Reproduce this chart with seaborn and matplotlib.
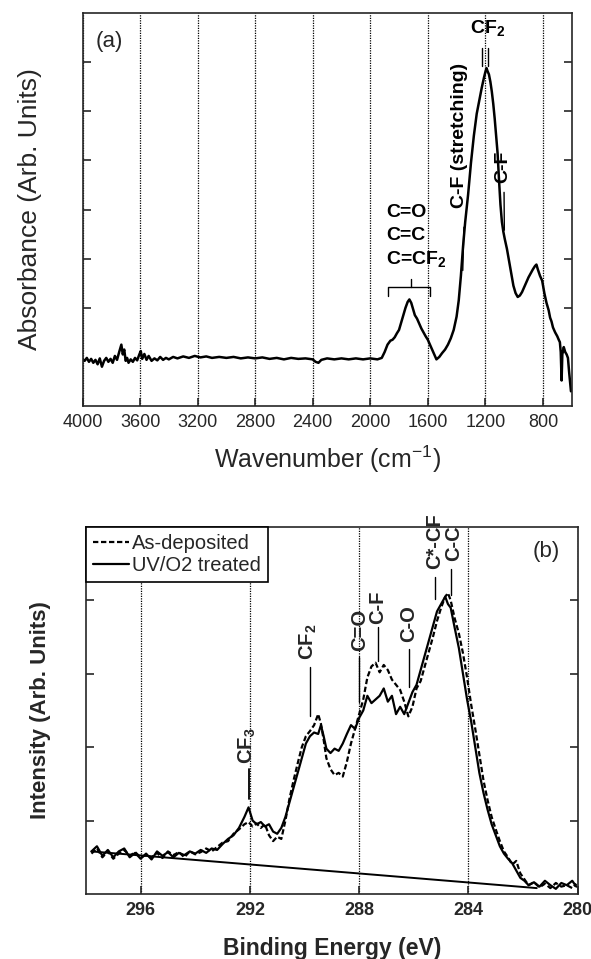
import matplotlib
matplotlib.use("Agg")
import matplotlib.pyplot as plt
import seaborn as sns
import pandas as pd

# ---------------- Panel (a): FTIR spectrum ----------------
ir_wavenumber = [
    4000, 3985, 3970, 3955, 3940, 3925, 3910, 3895, 3880, 3865, 3850, 3835, 3820, 3805,
    3790, 3775, 3760, 3745, 3730, 3720, 3710, 3700, 3690, 3680, 3665, 3650, 3635, 3620,
    3605, 3595, 3585, 3570, 3555, 3540, 3520, 3500, 3480, 3460, 3440, 3420, 3400, 3370,
    3340, 3300, 3260, 3220, 3180, 3140, 3100, 3050, 3000, 2950, 2900, 2850, 2800, 2750,
    2700, 2650, 2600, 2550, 2500, 2450, 2400, 2380, 2360, 2340, 2300, 2250, 2200, 2150,
    2100, 2050, 2000, 1950, 1920, 1900, 1880, 1860, 1845, 1830, 1815, 1800, 1785, 1770,
    1755, 1740, 1728, 1715, 1700, 1690, 1675, 1660, 1645, 1630, 1615, 1600, 1585, 1570,
    1555, 1540, 1520, 1500, 1480, 1460, 1440, 1420, 1400, 1385, 1370, 1355, 1340, 1320,
    1300, 1280, 1260, 1240, 1225, 1210, 1200, 1192, 1185, 1175, 1165, 1155, 1145, 1135,
    1125, 1115, 1105, 1095, 1085, 1075, 1065, 1050, 1035, 1020, 1005, 990, 975, 960, 945,
    930, 915, 900, 885, 870, 855, 845, 835, 820, 805, 790, 775, 760, 750, 740, 730, 715,
    700, 690, 682, 676, 670, 665, 655, 645, 635, 626, 618, 610, 605]
ir_absorbance = [
    -0.05, -0.08, -0.02, -0.10, -0.04, -0.12, -0.06, -0.15, -0.03, -0.20, -0.08, -0.02, -0.10, -0.04,
    -0.12, 0.02, -0.06, 0.10, 0.25, 0.05, 0.15, -0.08, -0.02, -0.12, -0.05, -0.10, -0.02, -0.07,
    0.05, 0.12, -0.04, 0.06, -0.06, 0.02, -0.08, -0.03, -0.07, 0.00, -0.06, -0.02, -0.05, 0.00,
    -0.03, 0.01, -0.02, 0.02, -0.01, 0.01, -0.02, 0.00, -0.02, 0.00, -0.03, -0.01, -0.03, -0.01,
    -0.04, -0.02, -0.05, -0.02, -0.04, -0.03, -0.05, -0.10, -0.12, -0.06, -0.03, -0.05, -0.03, -0.05,
    -0.03, -0.05, -0.03, -0.05, -0.02, 0.10, 0.25, 0.33, 0.35, 0.40, 0.48, 0.55, 0.70, 0.85,
    1.00, 1.12, 1.17, 1.10, 0.95, 0.85, 0.78, 0.68, 0.58, 0.50, 0.42, 0.35, 0.25, 0.15,
    0.05, -0.05, 0.00, 0.08, 0.15, 0.25, 0.38, 0.55, 0.82, 1.15, 1.65, 2.25, 2.75, 3.30,
    3.95, 4.50, 4.95, 5.25, 5.48, 5.68, 5.80, 5.88, 5.82, 5.75, 5.60, 5.40, 5.15, 4.85,
    4.50, 4.15, 3.60, 3.10, 2.75, 2.55, 2.40, 2.20, 1.95, 1.70, 1.45, 1.30, 1.22, 1.25, 1.32,
    1.42, 1.52, 1.62, 1.70, 1.78, 1.85, 1.88, 1.78, 1.65, 1.55, 1.30, 1.10, 0.95, 0.80, 0.72, 0.60, 0.50,
    0.42, 0.35, 0.30, 0.10, -0.48, 0.05, 0.20, 0.10, 0.05, -0.02, -0.30, -0.55, -0.70]
ir_xticks = [4000, 3600, 3200, 2800, 2400, 2000, 1600, 1200, 800]

# ---------------- Panel (b): XPS C1s ----------------
xps_energy = [
    297.8, 297.6, 297.4, 297.2, 297.0, 296.8, 296.6, 296.4, 296.2, 296.0, 295.8, 295.6, 295.4, 295.2,
    295.0, 294.8, 294.6, 294.4, 294.2, 294.0, 293.8, 293.6, 293.4, 293.2, 293.0, 292.8, 292.6, 292.4,
    292.2, 292.05, 291.9, 291.75, 291.6, 291.45, 291.3, 291.15, 291.0, 290.85, 290.7, 290.55, 290.4,
    290.25, 290.1, 289.95, 289.8, 289.65, 289.5, 289.4, 289.3, 289.2, 289.05, 288.9, 288.75, 288.6,
    288.45, 288.3, 288.15, 288.0, 287.85, 287.7, 287.55, 287.4, 287.25, 287.1, 286.95, 286.8, 286.65,
    286.5, 286.35, 286.2, 286.05, 285.9, 285.75, 285.6, 285.45, 285.3, 285.15, 285.0, 284.85, 284.75,
    284.65, 284.5, 284.35, 284.2, 284.05, 283.9, 283.75, 283.6, 283.45, 283.3, 283.15, 283.0, 282.85,
    282.7, 282.55, 282.4, 282.25, 282.1, 281.95, 281.8, 281.6, 281.4, 281.2, 281.0, 280.8, 280.6,
    280.4, 280.2, 280.05]
uv_treated = [
    0.58, 0.65, 0.52, 0.60, 0.50, 0.58, 0.62, 0.50, 0.56, 0.48, 0.55, 0.47, 0.58, 0.52,
    0.57, 0.50, 0.56, 0.53, 0.58, 0.55, 0.60, 0.56, 0.62, 0.60, 0.68, 0.75, 0.80, 0.90,
    1.05, 1.18, 1.00, 0.95, 0.98, 0.92, 0.95, 0.85, 0.82, 0.90, 1.05, 1.25, 1.45,
    1.65, 1.85, 2.05, 2.15, 2.20, 2.18, 2.30, 2.15, 1.98, 1.92, 1.98, 1.95, 2.05,
    2.18, 2.30, 2.25, 2.40, 2.50, 2.70, 2.60, 2.65, 2.70, 2.80, 2.62, 2.70, 2.45,
    2.55, 2.45, 2.60, 2.75, 2.85, 3.05, 3.25, 3.45, 3.65, 3.85, 3.95, 4.05, 3.95,
    3.90, 3.62, 3.35, 3.00, 2.65, 2.35, 2.00, 1.65, 1.38, 1.15, 0.95, 0.80, 0.65,
    0.55, 0.48, 0.42, 0.32, 0.22, 0.18, 0.12, 0.16, 0.10, 0.18, 0.12, 0.07, 0.15,
    0.12, 0.18, 0.10]
as_deposited = [
    0.55, 0.62, 0.50, 0.58, 0.48, 0.55, 0.60, 0.52, 0.57, 0.50, 0.53, 0.50, 0.56, 0.49,
    0.58, 0.53, 0.57, 0.50, 0.58, 0.54, 0.57, 0.62, 0.58, 0.64, 0.70, 0.72, 0.82, 0.88,
    0.95, 0.98, 0.92, 0.96, 0.90, 0.95, 0.80, 0.72, 0.78, 0.75, 1.00, 1.30, 1.55,
    1.78, 2.00, 2.15, 2.22, 2.30, 2.45, 2.32, 2.10, 1.85, 1.70, 1.62, 1.65, 1.60,
    1.80, 2.05, 2.25, 2.45, 2.65, 2.95, 3.10, 3.15, 3.02, 3.12, 3.05, 2.92, 2.85,
    2.78, 2.62, 2.42, 2.55, 2.80, 2.90, 3.10, 3.30, 3.50, 3.72, 3.90, 4.05, 4.10,
    4.00, 3.75, 3.55, 3.28, 2.95, 2.58, 2.25, 1.90, 1.55, 1.28, 1.05, 0.88, 0.72,
    0.58, 0.50, 0.40, 0.45, 0.28, 0.20, 0.12, 0.16, 0.09, 0.14, 0.08, 0.15, 0.10,
    0.12, 0.08, 0.14]
background_energy = [297.8, 281.5]
background_level = [0.58, 0.08]
xps_xticks = [296, 292, 288, 284, 280]
series_labels = ["As-deposited", "UV/O2 treated"]

# ---------------- style ----------------
sns.set_style("ticks")
plt.rcParams["font.family"] = ["Liberation Sans", "DejaVu Sans"]
plt.rcParams["mathtext.fontset"] = "custom"
plt.rcParams["mathtext.rm"] = "Liberation Sans"
plt.rcParams["mathtext.bf"] = "Liberation Sans:bold"
plt.rcParams["axes.linewidth"] = 1.2

fig = plt.figure(figsize=(5.91, 9.59), dpi=100)
ax1 = fig.add_axes([0.1396, 0.5766, 0.8277, 0.4098])
ax2 = fig.add_axes([0.1455, 0.0678, 0.8320, 0.3827])

grid_kw = dict(color="black", lw=0.9, linestyle=(0, (1, 1)))

# ---------- panel a ----------
df_ir = pd.DataFrame({"w": ir_wavenumber, "a": ir_absorbance})
sns.lineplot(data=df_ir, x="w", y="a", ax=ax1, color="black", lw=1.8,
             estimator=None, sort=False)
ax1.set_xlim(4000, 600)
ax1.set_ylim(-1, 7)
ax1.set_xticks(ir_xticks)
ax1.set_yticks([1, 2, 3, 4, 5, 6])
ax1.tick_params(axis="both", direction="in", length=6, width=1.2)
ax1.tick_params(axis="y", left=True, right=True, labelleft=False)
ax1.tick_params(axis="x", labelsize=13, pad=6)
ax1.xaxis.grid(True, **grid_kw)
ax1.set_xlabel("Wavenumber (cm$^{-1}$)", fontsize=18, labelpad=9)
ax1.set_ylabel("Absorbance (Arb. Units)", fontsize=19, labelpad=29)

ax1.text(3812, 6.43, "(a)", fontsize=16, ha="center", va="center")
ann = dict(fontsize=14, fontweight="bold", color="black")
ax1.text(1182, 6.68, "CF$_\\mathbf{2}$", ha="center", va="center", **ann)
ax1.plot([1222, 1222], [5.93, 6.28], color="black", lw=1.0)
ax1.plot([1180, 1180], [5.93, 6.28], color="black", lw=1.0)
ax1.text(1378, 4.5, "C-F (stretching)", rotation=90, ha="center", va="center", **ann)
ax1.plot([1357, 1349], [1.76, 2.64], color="black", lw=1.0)
ax1.text(1076, 3.87, "C-F", rotation=90, ha="center", va="center", **ann)
ax1.plot([1070, 1068], [3.35, 2.58], color="black", lw=1.0)
ax1.text(1890, 2.94, "C=O", ha="left", va="center", **ann)
ax1.text(1890, 2.47, "C=C", ha="left", va="center", **ann)
ax1.text(1890, 1.98, "C=CF$_\\mathbf{2}$", ha="left", va="center", **ann)
ax1.plot([1875, 1875, 1587, 1587], [1.25, 1.42, 1.42, 1.25], color="black", lw=1.0)
ax1.plot([1718, 1718], [1.42, 1.59], color="black", lw=1.0)

# ---------- panel b ----------
df_xps = pd.DataFrame({
    "energy": xps_energy * 2,
    "intensity": as_deposited + uv_treated,
    "sample": [series_labels[0]] * len(xps_energy) + [series_labels[1]] * len(xps_energy),
})
sns.lineplot(data=df_xps, x="energy", y="intensity", hue="sample", style="sample",
             palette={series_labels[0]: "black", series_labels[1]: "black"},
             dashes={series_labels[0]: (2.4, 1.2), series_labels[1]: ""},
             ax=ax2, lw=1.6, estimator=None, sort=False, legend=True)
sns.lineplot(x=background_energy, y=background_level, ax=ax2, color="black", lw=1.4,
             estimator=None, sort=False, legend=False)
ax2.set_xlim(298, 280)
ax2.set_ylim(0, 5)
ax2.set_xticks(xps_xticks)
ax2.set_yticks([1, 2, 3, 4])
ax2.tick_params(axis="both", direction="in", length=6, width=1.2)
ax2.tick_params(axis="y", left=True, right=True, labelleft=False)
ax2.tick_params(axis="x", labelsize=13, pad=6)
for lab in ax2.get_xticklabels():
    lab.set_fontweight("bold")
ax2.xaxis.grid(True, **grid_kw)
ax2.set_xlabel("Binding Energy (eV)", fontsize=16.5, fontweight="bold", labelpad=13)
ax2.set_ylabel("Intensity (Arb. Units)", fontsize=16, fontweight="bold", labelpad=25)

leg = ax2.legend(loc="upper left", bbox_to_anchor=(0, 1), borderaxespad=0,
                 fancybox=False, framealpha=1, edgecolor="black", fontsize=14.5,
                 handlelength=1.8, handletextpad=0.15, labelspacing=0.15,
                 borderpad=0.35, title=None)
leg.get_frame().set_linewidth(1.2)
for h in leg.get_lines():
    h.set_linewidth(1.6)

annb = dict(rotation=90, ha="center", va="center", fontsize=14.5, fontweight="bold")
ax2.text(292.09, 2.02, "CF$_\\mathbf{3}$", **annb)
ax2.plot([292.05, 292.05], [1.30, 1.70], color="black", lw=1.3)
ax2.text(289.87, 3.43, "CF$_\\mathbf{2}$", **annb)
ax2.plot([289.8, 289.8], [2.43, 3.09], color="black", lw=1.0)
ax2.text(288.0, 3.6, "C=O", **annb)
ax2.plot([288.02, 288.02], [2.61, 3.23], color="black", lw=1.0)
ax2.text(287.31, 3.9, "C-F", **annb)
ax2.plot([287.31, 287.31], [3.18, 3.64], color="black", lw=1.0)
ax2.text(286.18, 3.68, "C-O", **annb)
ax2.plot([286.18, 286.18], [2.82, 3.34], color="black", lw=1.0)
ax2.text(285.24, 4.8, "C*-CF", clip_on=False, **annb)
ax2.plot([285.24, 285.24], [4.02, 4.32], color="black", lw=1.0)
ax2.text(284.55, 4.78, "C-C", clip_on=False, **annb)
ax2.plot([284.62, 284.62], [4.07, 4.43], color="black", lw=1.0)
ax2.text(281.16, 4.66, "(b)", fontsize=16, ha="center", va="center")

fig.savefig("out.png", dpi=100)
